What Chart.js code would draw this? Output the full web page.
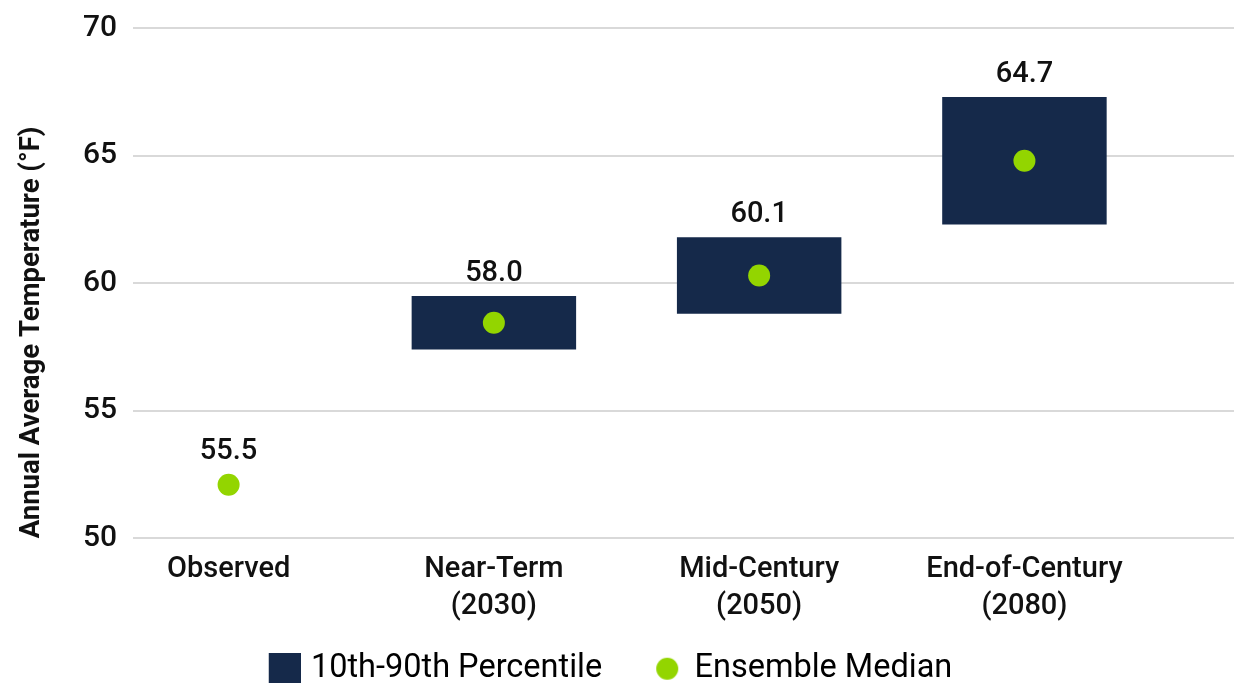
<!DOCTYPE html>
<html>
<head>
<meta charset="utf-8">
<script src="https://cdn.jsdelivr.net/npm/chart.js@4/dist/chart.umd.min.js"></script>
<style>
  html, body { margin: 0; padding: 0; background: #fff; }
  #wrap { width: 1245px; height: 683px; overflow: hidden; }
</style>
</head>
<body>
<div id="wrap"><canvas id="tempChart" width="1245" height="683"></canvas></div>
<script>
// categories (multi-line labels)
const categories = [["Observed"], ["Near-Term", "(2030)"], ["Mid-Century", "(2050)"], ["End-of-Century", "(2080)"]];
// 10th-90th percentile range (°F), none for observed
const pctLow = [null, 57.4, 58.8, 62.3];
const pctHigh = [null, 59.5, 61.8, 67.3];
// ensemble median dots
const medians = [52.1, 58.45, 60.3, 64.8];
// printed labels above each column
const labelValues = [55.5, 58.0, 60.1, 64.7];
const seriesNames = ["10th-90th Percentile", "Ensemble Median"];
const yTicks = [50, 55, 60, 65, 70];

const NAVY = "#15294a";
const GREEN = "#93d500";

Chart.defaults.font.family = "Roboto, 'Noto Sans', sans-serif";
Chart.defaults.color = "#111";

// legend icons (own canvases so square and dot can differ in size and offset)
function makeIcon(w, h, draw) {
  const c = document.createElement("canvas");
  c.width = w;
  c.height = h;
  draw(c.getContext("2d"));
  return c;
}
const boxIcon = makeIcon(66, 32, (g) => { g.fillStyle = NAVY; g.fillRect(34, 0, 32, 32); });
const dotIcon = makeIcon(66, 24, (g) => { g.fillStyle = GREEN; g.beginPath(); g.arc(49, 12, 11, 0, Math.PI * 2); g.fill(); });

// value labels above the bars (or above the dot when there is no bar)
const valueLabels = {
  id: "valueLabels",
  afterDatasetsDraw(chart) {
    const ctx = chart.ctx;
    const barMeta = chart.getDatasetMeta(0);
    const dotMeta = chart.getDatasetMeta(1);
    ctx.save();
    ctx.font = "500 29px Roboto";
    ctx.fillStyle = "#111";
    ctx.textAlign = "center";
    ctx.textBaseline = "alphabetic";
    labelValues.forEach((v, i) => {
      const dot = dotMeta.data[i];
      let top;
      if (pctHigh[i] != null) top = barMeta.data[i].y;
      else top = dot.y - dot.options.radius;
      ctx.fillText(v.toFixed(1), dot.x, top - 15);
    });
    ctx.restore();
  },
};

const ctx = document.getElementById("tempChart").getContext("2d");
const tempChart = new Chart(ctx, {
  type: "bar",
  data: {
    datasets: [
      {
        label: seriesNames[0],
        data: categories.map((c, i) => ({ x: i, y: pctHigh[i] == null ? null : [pctLow[i], pctHigh[i]] })),
        backgroundColor: NAVY,
        borderWidth: 0,
        categoryPercentage: 0.62,
        barPercentage: 1,
        order: 1,
      },
      {
        type: "scatter",
        label: seriesNames[1],
        data: categories.map((c, i) => ({ x: i, y: medians[i] })),
        backgroundColor: GREEN,
        borderWidth: 0,
        pointRadius: 11,
        pointHoverRadius: 11,
        order: 0,
      },
    ],
  },
  options: {
    responsive: false,
    animation: false,
    layout: {
      padding: { top: 28, right: 5, left: -47, bottom: -12 },
    },
    plugins: {
      tooltip: { enabled: false },
      legend: {
        display: true,
        position: "bottom",
        labels: {
          usePointStyle: true,
          pointStyleWidth: 54,
          boxWidth: 54,
          boxHeight: 32,
          padding: 22,
          font: { size: 32.5 },
          color: "#111",
          generateLabels: () => [
            { text: seriesNames[0], pointStyle: boxIcon, fillStyle: NAVY, strokeStyle: NAVY, lineWidth: 0, hidden: false, datasetIndex: 0 },
            { text: seriesNames[1], pointStyle: dotIcon, fillStyle: GREEN, strokeStyle: GREEN, lineWidth: 0, hidden: false, datasetIndex: 1 },
          ],
        },
      },
    },
    scales: {
      x: {
        type: "linear",
        min: -0.36,
        max: 3.79,
        offset: false,
        grid: { display: false },
        border: { display: false },
        afterBuildTicks: (scale) => {
          scale.ticks = categories.map((c, i) => ({ value: i }));
        },
        ticks: {
          padding: 5,
          autoSkip: false,
          maxRotation: 0,
          font: { size: 29, weight: 500, lineHeight: 1.28 },
          color: "#111",
          callback: (value) => categories[value],
        },
      },
      y: {
        min: 50,
        max: 70,
        afterBuildTicks: (scale) => {
          scale.ticks = yTicks.map((v) => ({ value: v }));
        },
        grid: { color: "#d9d9d9", lineWidth: 2, drawTicks: false },
        border: { display: false },
        ticks: {
          padding: 16,
          font: { size: 30, weight: 500, lineHeight: 0.8 },
          color: "#111",
        },
        title: {
          display: true,
          align: "start",
          text: "Annual Average Temperature (°F)",
          font: { size: 27.5, weight: "bold", lineHeight: 1.2 },
          color: "#111",
          padding: { top: 63, bottom: 18 },
        },
      },
    },
  },
  plugins: [valueLabels],
});
</script>
</body>
</html>
